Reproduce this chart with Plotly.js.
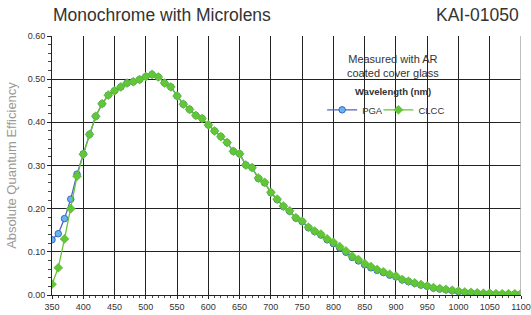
<!DOCTYPE html>
<html><head><meta charset="utf-8">
<script src="https://cdn.plot.ly/plotly-3.0.1.min.js"></script>
<style>html,body{margin:0;padding:0;background:#fff}#c{width:531px;height:315px}</style>
</head><body><div id="c"></div>
<script>
var wavelength = [350,360,370,380,390,400,410,420,430,440,450,460,470,480,490,500,510,520,530,540,550,560,570,580,590,600,610,620,630,640,650,660,670,680,690,700,710,720,730,740,750,760,770,780,790,800,810,820,830,840,850,860,870,880,890,900,910,920,930,940,950,960,970,980,990,1000,1010,1020,1030,1040,1050,1060,1070,1080,1090,1100];
var pga = [0.128,0.142,0.177,0.222,0.280,0.327,0.372,0.414,0.443,0.463,0.473,0.482,0.491,0.494,0.499,0.506,0.511,0.505,0.491,0.482,0.461,0.442,0.430,0.416,0.409,0.394,0.380,0.367,0.353,0.333,0.327,0.301,0.295,0.270,0.260,0.237,0.221,0.205,0.194,0.178,0.170,0.156,0.147,0.139,0.128,0.119,0.109,0.099,0.087,0.079,0.070,0.063,0.057,0.052,0.046,0.042,0.035,0.031,0.027,0.023,0.020,0.016,0.014,0.012,0.010,0.008,0.006,0.005,0.004,0.003,0.003,0.002,0.002,0.002,0.002,0.002];
var clcc = [0.025,0.063,0.130,0.200,0.275,0.326,0.372,0.414,0.443,0.463,0.473,0.482,0.491,0.494,0.499,0.506,0.511,0.505,0.491,0.482,0.461,0.442,0.430,0.416,0.409,0.394,0.380,0.367,0.353,0.333,0.327,0.301,0.295,0.271,0.261,0.238,0.222,0.206,0.195,0.179,0.171,0.157,0.148,0.141,0.130,0.122,0.112,0.102,0.090,0.082,0.073,0.066,0.059,0.054,0.048,0.044,0.036,0.032,0.028,0.024,0.021,0.017,0.015,0.013,0.011,0.009,0.007,0.006,0.005,0.004,0.004,0.003,0.003,0.003,0.003,0.003];
var seriesNames = ['PGA','CLCC'];

var traces = [
  {x: wavelength, y: pga, name: seriesNames[0], type: 'scatter', mode: 'lines+markers', legend: 'legend',
   line: {color: '#5560c4', width: 1.3},
   marker: {symbol: 'circle', size: 6.5, color: '#62b8ea', line: {color: '#3f64c8', width: 1}}},
  {x: wavelength, y: clcc, name: seriesNames[1], type: 'scatter', mode: 'lines+markers', legend: 'legend2',
   line: {color: '#66c43a', width: 1.3},
   marker: {symbol: 'diamond', size: 7, color: '#62c636', line: {color: '#55b82e', width: 0.5}}}
];

var legendCommon = {orientation: 'h', y: 0.715, xanchor: 'left', yanchor: 'middle',
  bgcolor: 'rgba(0,0,0,0)', font: {size: 9.5, color: '#333'}, itemwidth: 30};

var layout = {
  width: 531, height: 315,
  margin: {l: 52, r: 10, t: 36, b: 20},
  paper_bgcolor: '#fff', plot_bgcolor: '#fff',
  font: {family: 'Liberation Sans, Arial, sans-serif', color: '#333'},
  showlegend: true,
  legend: Object.assign({x: 0.576}, legendCommon),
  legend2: Object.assign({x: 0.696}, legendCommon),
  xaxis: {range: [350, 1100], tickmode: 'linear', tick0: 350, dtick: 50,
          showgrid: true, gridcolor: '#222', gridwidth: 1, zeroline: false,
          showline: true, linecolor: '#222', linewidth: 1,
          ticks: 'outside', ticklen: 3, tickcolor: '#222',
          minor: {dtick: 10, ticks: 'outside', ticklen: 2, tickcolor: '#444', showgrid: false},
          tickfont: {size: 9, color: '#333', family: 'Liberation Sans, Arial, sans-serif'},
          fixedrange: true},
  yaxis: {range: [0, 0.6], tickmode: 'linear', tick0: 0, dtick: 0.1, tickformat: '.2f',
          showgrid: true, gridcolor: '#222', gridwidth: 1, zeroline: false,
          showline: true, linecolor: '#222', linewidth: 1,
          ticks: 'outside', ticklen: 4, tickcolor: '#222',
          minor: {dtick: 0.02, ticks: 'outside', ticklen: 3, tickcolor: '#444', showgrid: false},
          tickfont: {size: 9, color: '#333', family: 'Liberation Sans, Arial, sans-serif'},
          title: {text: 'Absolute Quantum Efficiency', font: {size: 13, color: '#9a9a9a'}, standoff: 8},
          fixedrange: true},
  shapes: [
    {type: 'line', xref: 'paper', yref: 'paper', x0: 0.003, x1: 0.997, y0: 1, y1: 1,
     line: {color: '#fff', width: 2}, layer: 'between'},
    {type: 'rect', xref: 'paper', yref: 'paper', x0: 0.607, x1: 0.86, y0: 0.675, y1: 0.95,
     fillcolor: '#fff', line: {width: 0}, layer: 'between'},
    {type: 'line', xref: 'x', yref: 'paper', x0: 1100, x1: 1100, y0: 0, y1: 1,
     line: {color: '#aaa', width: 1.5}}
  ],
  annotations: [
    {text: 'Monochrome with Microlens', xref: 'paper', yref: 'paper', x: 0, y: 1, xanchor: 'left', yanchor: 'bottom',
     xshift: -1, yshift: 9, showarrow: false, font: {size: 17.5, color: '#333'}},
    {text: 'KAI-01050', xref: 'paper', yref: 'paper', x: 1, y: 1, xanchor: 'right', yanchor: 'bottom',
     yshift: 9, showarrow: false, font: {size: 17.5, color: '#333'}},
    {text: 'Measured with AR<br>coated cover glass', xref: 'paper', yref: 'paper', x: 0.728, y: 0.885,
     xanchor: 'center', yanchor: 'middle', showarrow: false, font: {size: 11, color: '#333'}},
    {text: '<b>Wavelength (nm)</b>', xref: 'paper', yref: 'paper', x: 0.728, y: 0.785,
     xanchor: 'center', yanchor: 'middle', showarrow: false, font: {size: 9.5, color: '#333'}}
  ]
};
Plotly.newPlot('c', traces, layout, {displayModeBar: false, staticPlot: true});
</script></body></html>
